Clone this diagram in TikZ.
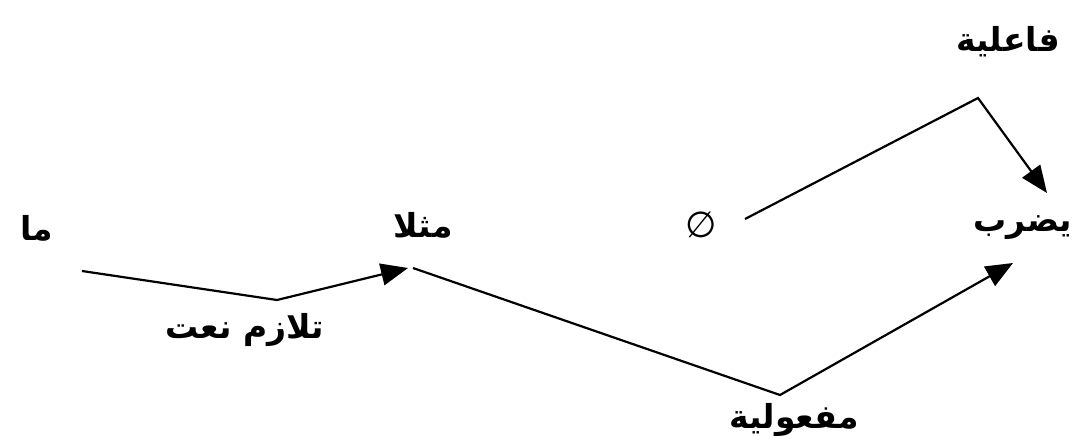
\documentclass[tikz,border=0pt]{standalone}
\usepackage{fontspec}
\usetikzlibrary{arrows.meta}
\TeXXeTstate=1
\newfontfamily\arabicfont[Script=Arabic]{DejaVu Sans}
\newfontfamily\symfont{DejaVu Sans}
\tikzset{
  lbl/.style={inner sep=0pt, font=\arabicfont\bfseries\fontsize{33}{36}\selectfont},
  conn/.style={line width=2.2pt, -{Triangle[length=27pt,width=22pt]}},
}
\begin{document}
\begin{tikzpicture}[x=1pt,y=-1pt]
\useasboundingbox[fill=white] (0,0) rectangle (1074,445);
\node[lbl] (ma) at (37,228) {\beginR ما\endR};
\node[lbl] (mathalan) at (423,225) {\beginR مثلا\endR};
\node[lbl] (talazum) at (245,330) {\beginR تلازم نعت\endR};
\node[inner sep=0pt, font=\symfont\fontsize{36}{38}\selectfont] (null) at (701,225) {∅};
\node[lbl] (yadrib) at (1023,228) {\beginR يضرب\endR};
\node[lbl] (failiya) at (1008,42) {\beginR فاعلية\endR};
\node[lbl] (mafuliya) at (794,420) {\beginR مفعولية\endR};
\coordinate (c1s) at (82,271);
\coordinate (c1b) at (277,300);
\coordinate (c1e) at (408,268);
\coordinate (c2s) at (413,268);
\coordinate (c2b) at (780,395);
\coordinate (c2e) at (1013,263);
\coordinate (c3s) at (745,219);
\coordinate (c3b) at (978,98);
\coordinate (c3e) at (1047,193);
\draw[conn] (c1s) -- (c1b) -- (c1e);
\draw[conn] (c2s) -- (c2b) -- (c2e);
\draw[conn] (c3s) -- (c3b) -- (c3e);
\end{tikzpicture}
\end{document}
